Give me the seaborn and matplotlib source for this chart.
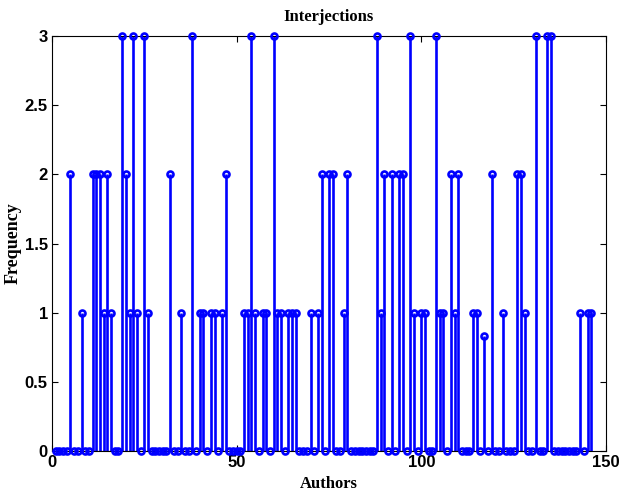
import numpy as np
import pandas as pd
import matplotlib
matplotlib.use("Agg")
import matplotlib.pyplot as plt
import seaborn as sns

# ---- data ----
authors = list(range(1, 147))
frequency = [
    0, 0, 0, 0, 2, 0, 0, 1, 0, 0,
    2, 2, 2, 1, 2, 1, 0, 0, 3, 2,
    1, 3, 1, 0, 3, 1, 0, 0, 0, 0,
    0, 2, 0, 0, 1, 0, 0, 3, 0, 1,
    1, 0, 1, 1, 0, 1, 2, 0, 0, 0,
    0, 1, 1, 3, 1, 0, 1, 1, 0, 3,
    1, 1, 0, 1, 1, 1, 0, 0, 0, 1,
    0, 1, 2, 0, 2, 2, 0, 0, 1, 2,
    0, 0, 0, 0, 0, 0, 0, 3, 1, 2,
    0, 2, 0, 2, 2, 0, 3, 1, 0, 1,
    1, 0, 0, 3, 1, 1, 0, 2, 1, 2,
    0, 0, 0, 1, 1, 0, 0.83, 0, 2, 0,
    0, 1, 0, 0, 0, 2, 2, 1, 0, 0,
    3, 0, 0, 3, 3, 0, 0, 0, 0, 0,
    0, 0, 1, 0, 1, 1,
]
x_ticks = [0, 50, 100, 150]
y_ticks = [0, 0.5, 1, 1.5, 2, 2.5, 3]
y_ticklabels = ["0", "0.5", "1", "1.5", "2", "2.5", "3"]
title = "Interjections"
xlabel = "Authors"
ylabel = "Frequency"

df = pd.DataFrame({"Authors": authors, "Frequency": frequency})

sns.set_theme(style="white")
plt.rcParams["font.family"] = ["Liberation Sans", "DejaVu Sans"]

fig = plt.figure(figsize=(6.19, 4.92), dpi=100)
W, H = 619, 492
ax = fig.add_axes([52 / W, (H - 451) / H, (606 - 52) / W, (451 - 36) / H])

blue = (0, 0, 1)
ml, sl, bl = ax.stem(df["Authors"], df["Frequency"], basefmt="k-")
plt.setp(sl, color=blue, linewidth=1.9, clip_on=False)
plt.setp(ml, color=blue, marker="o", markersize=4.3, markerfacecolor="none",
         markeredgewidth=1.9, markeredgecolor=blue, clip_on=False, zorder=3)
plt.setp(bl, color="black", linewidth=0.8)

ax.set_xlim(0, 150)
ax.set_ylim(0, 3)
ax.set_xticks(x_ticks)
ax.set_xticklabels([str(t) for t in x_ticks])
ax.set_yticks(y_ticks)
ax.set_yticklabels(y_ticklabels)

for s in ax.spines.values():
    s.set_color("black")
    s.set_linewidth(0.8)
    s.set_visible(True)

ax.tick_params(axis="both", which="both", direction="in", length=4, width=0.8,
               top=True, right=True, bottom=True, left=True, color="black",
               labelsize=12, pad=3)
for lab in ax.get_xticklabels() + ax.get_yticklabels():
    lab.set_fontweight("bold")
    lab.set_color("black")

serif = ["Liberation Serif", "DejaVu Serif"]
ax.set_title(title, fontsize=12, fontweight="bold", family=serif, pad=11, color="black")
ax.set_xlabel(xlabel, fontsize=12, fontweight="bold", family=serif, labelpad=4, color="black")
ax.set_ylabel(ylabel, fontsize=13, fontweight="bold", family=serif, labelpad=2, color="black")
ax.grid(False)
ax.set_facecolor("white")
fig.patch.set_facecolor("white")

fig.savefig("out.png", dpi=100)
